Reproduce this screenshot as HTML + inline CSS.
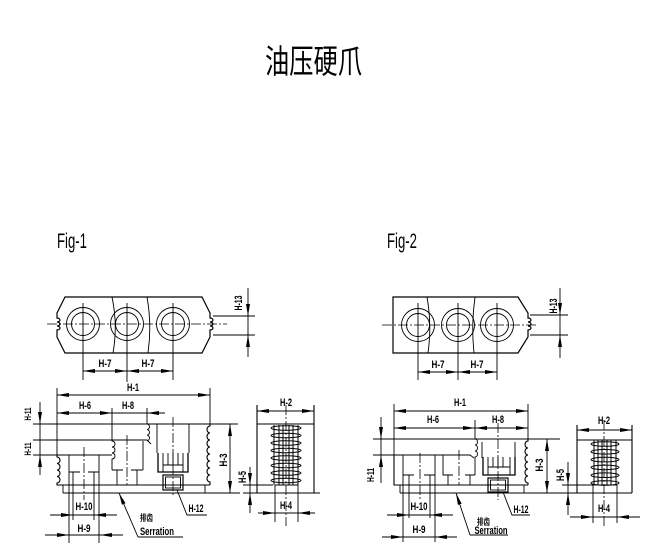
<!DOCTYPE html>
<html><head><meta charset="utf-8">
<style>
html,body{margin:0;padding:0;background:#fff;}
svg{display:block}
.t{font-family:"Liberation Sans",sans-serif;font-weight:bold;font-size:11px;text-anchor:middle;fill:#000;stroke:none}
.s{font-family:"Liberation Sans",sans-serif;font-weight:bold;font-size:9px;text-anchor:middle;fill:#000;stroke:none}
.c{stroke-dasharray:10,2,2,2;stroke-width:0.8}
</style></head><body>
<svg width="653" height="552" viewBox="0 0 653 552" xmlns="http://www.w3.org/2000/svg">
<defs>
<marker id="a" viewBox="0 0 12 4" refX="12" refY="2" markerWidth="12" markerHeight="4" markerUnits="userSpaceOnUse" orient="auto-start-reverse"><path d="M0,0L12,2L0,4z" fill="#000" stroke="none"/></marker>
</defs>

<!-- Title -->
<text x="265" y="73" font-family="'Liberation Sans','Noto Sans CJK SC',sans-serif" font-size="33" textLength="97" lengthAdjust="spacingAndGlyphs" fill="#000">油压硬爪</text>
<text x="57" y="248" font-family="'Liberation Sans',sans-serif" font-size="21" textLength="30" lengthAdjust="spacingAndGlyphs" fill="#000">Fig-1</text>
<text x="387" y="248" font-family="'Liberation Sans',sans-serif" font-size="21" textLength="30" lengthAdjust="spacingAndGlyphs" fill="#000">Fig-2</text>

<g fill="none" stroke="#000" stroke-width="0.9">
<!-- ===== FIG 1 TOP VIEW ===== -->
<path stroke-width="1.2" d="M65,297H202L210,313V318a3,2 0 0 1 0,4a3,2 0 0 1 0,4a3,2 0 0 1 0,4V337L202,353H65L57,337V330a3,2 0 0 0 0,-4a3,2 0 0 0 0,-4a3,2 0 0 0 0,-4V313Z"/>
<circle cx="83" cy="324" r="16.5"/><circle cx="83" cy="324" r="11.5"/>
<circle cx="127" cy="324" r="16.5"/><circle cx="127" cy="324" r="11.5"/>
<circle cx="173" cy="324" r="16.5"/><circle cx="173" cy="324" r="11.5"/>
<path class="c" d="M47,324H227"/>
<path d="M83,303V380M127,303V382M173,303V380"/>
<path d="M112,297Q118,325 113,353M147,297Q152,325 148,353"/>
<path d="M213,316H255M213,335H255"/>
<line x1="248" y1="288" x2="248" y2="316" marker-end="url(#a)"/>
<line x1="248" y1="357" x2="248" y2="335" marker-end="url(#a)"/>
<line x1="248" y1="316" x2="248" y2="335"/>
<line x1="83" y1="371" x2="127" y2="371" marker-start="url(#a)" marker-end="url(#a)"/>
<line x1="127" y1="371" x2="173" y2="371" marker-start="url(#a)" marker-end="url(#a)"/>

<!-- ===== FIG 1 FRONT VIEW ===== -->
<path d="M57,388V455M210,388V424"/>
<line x1="57" y1="395" x2="210" y2="395" marker-start="url(#a)" marker-end="url(#a)"/>
<path d="M112,408V440M147,408V424"/>
<line x1="57" y1="413" x2="112" y2="413" marker-start="url(#a)" marker-end="url(#a)"/>
<line x1="165" y1="413" x2="147" y2="413" marker-end="url(#a)"/>
<line x1="112" y1="413" x2="147" y2="413"/>
<line x1="40" y1="402" x2="40" y2="424" marker-end="url(#a)"/>
<line x1="40" y1="475" x2="40" y2="455" marker-end="url(#a)"/>
<line x1="40" y1="424" x2="40" y2="455"/>
<path d="M33,424H238M33,440H147L151,444M33,455H112"/>
<path stroke-width="1.1" d="M57,455V457a3,3.25 0 0 1 0,6.5a3,3.25 0 0 1 0,6.5a3,3.25 0 0 1 0,6.5a3,3.25 0 0 1 0,6.5V485H210"/>
<path stroke-width="1.1" d="M210,424V426a3,3.5 0 0 0 0,7a3,3.5 0 0 0 0,7a3,3.5 0 0 0 0,7a3,3.5 0 0 0 0,7a3,3.5 0 0 0 0,7a3,3.5 0 0 0 0,7a3,3.5 0 0 0 0,7a3,3.5 0 0 0 0,7V485"/>
<path d="M63,485V493M205,485V493M63,493H240"/>
<path d="M112,440V441a3,3 0 0 1 0,6a3,3 0 0 1 0,6a3,3 0 0 1 0,6V470"/>
<path d="M112,470H123M131,470H143M117,470V485M137,470V485M143,441V470"/>
<path class="c" d="M127,435V485"/>
<path d="M147,424a2.5,2.8 0 0 1 0,5.6a2.5,2.8 0 0 1 0,5.6a2.5,2.8 0 0 1 0,5.6"/>
<path d="M157,424V453M189,424V453"/>
<path class="c" d="M173,417V497"/>
<path stroke-width="1.3" d="M158,453V472H188V453"/>
<path d="M163,453V465H183V453M168,453V465M173,453V465M178,453V465M163,465V472M183,465V472"/>
<rect x="163" y="475" width="20" height="15" stroke-width="1.2"/>
<rect x="165.5" y="477" width="15" height="11"/>
<path d="M177,490L187,515H207"/>
<path d="M69,455V543M99,455V543M69,472H80M88,472H99M73,472V520M94,472V520"/>
<path class="c" d="M84,447V500"/>
<line x1="50" y1="515" x2="73" y2="515" marker-end="url(#a)"/>
<line x1="117" y1="515" x2="94" y2="515" marker-end="url(#a)"/>
<line x1="73" y1="515" x2="94" y2="515"/>
<line x1="45" y1="535" x2="69" y2="535" marker-end="url(#a)"/>
<line x1="123" y1="535" x2="100" y2="535" marker-end="url(#a)"/>
<line x1="69" y1="535" x2="100" y2="535"/>
<line x1="138" y1="537" x2="119" y2="493" marker-end="url(#a)"/>
<path d="M138,537H183"/>
<line x1="230" y1="424" x2="230" y2="493" marker-start="url(#a)" marker-end="url(#a)"/>
<line x1="250" y1="467" x2="250" y2="485" marker-end="url(#a)"/>
<line x1="250" y1="513" x2="250" y2="493" marker-end="url(#a)"/>
<line x1="250" y1="485" x2="250" y2="493"/>
<path d="M243,485H273M243,493H320"/>

<!-- FIG 1 SIDE VIEW -->
<path stroke-width="1.1" d="M257,405V493M314,405V493M257,424H314"/>
<line x1="257" y1="411" x2="314" y2="411" marker-start="url(#a)" marker-end="url(#a)"/>
<g stroke-width="1">
<path d="M274,425V485M279,425V485M283,425V485M289,425V485M293,425V485M298,425V485"/>
<ellipse cx="286" cy="428" rx="15" ry="2.3"/><ellipse cx="286" cy="435.5" rx="15" ry="2.3"/>
<ellipse cx="286" cy="443" rx="15" ry="2.3"/><ellipse cx="286" cy="450.5" rx="15" ry="2.3"/>
<ellipse cx="286" cy="458" rx="15" ry="2.3"/><ellipse cx="286" cy="465.5" rx="15" ry="2.3"/>
<ellipse cx="286" cy="473" rx="15" ry="2.3"/><ellipse cx="286" cy="480.5" rx="15" ry="2.3"/>
</g>
<path d="M275,485V522M298,485V522M275,485H298"/>
<path class="c" d="M286,405V526"/>
<line x1="258" y1="513" x2="275" y2="513" marker-end="url(#a)"/>
<line x1="315" y1="513" x2="298" y2="513" marker-end="url(#a)"/>
<line x1="275" y1="513" x2="298" y2="513"/>

<!-- ===== FIG 2 TOP VIEW ===== -->
<path stroke-width="1.2" d="M393,297H518L528,313V318a3,2 0 0 1 0,4a3,2 0 0 1 0,4a3,2 0 0 1 0,4V337L518,353H393Z"/>
<circle cx="418" cy="325" r="16.5"/><circle cx="418" cy="325" r="11.5"/>
<circle cx="458" cy="325" r="16.5"/><circle cx="458" cy="325" r="11.5"/>
<circle cx="497" cy="325" r="16.5"/><circle cx="497" cy="325" r="11.5"/>
<path class="c" d="M382,325H538"/>
<path d="M418,303V380M458,303V380M497,303V380"/>
<path d="M427,297Q432,325 428,353M475,297Q471,325 474,353"/>
<path d="M530,315H568M530,335H568"/>
<line x1="560" y1="288" x2="560" y2="315" marker-end="url(#a)"/>
<line x1="560" y1="358" x2="560" y2="335" marker-end="url(#a)"/>
<line x1="560" y1="315" x2="560" y2="335"/>
<line x1="418" y1="372" x2="458" y2="372" marker-start="url(#a)" marker-end="url(#a)"/>
<line x1="458" y1="372" x2="497" y2="372" marker-start="url(#a)" marker-end="url(#a)"/>

<!-- ===== FIG 2 FRONT VIEW ===== -->
<path d="M394,404V455M528,404V439M475,420V439"/>
<line x1="394" y1="411" x2="528" y2="411" marker-start="url(#a)" marker-end="url(#a)"/>
<line x1="394" y1="428" x2="475" y2="428" marker-start="url(#a)" marker-end="url(#a)"/>
<line x1="475" y1="428" x2="528" y2="428" marker-start="url(#a)" marker-end="url(#a)"/>
<path d="M373,439H560M373,455H470L474,458"/>
<line x1="381" y1="417" x2="381" y2="439" marker-end="url(#a)"/>
<line x1="381" y1="483" x2="381" y2="455" marker-end="url(#a)"/>
<line x1="381" y1="439" x2="381" y2="455"/>
<path stroke-width="1.1" d="M394,455V485H528"/>
<path stroke-width="1.1" d="M528,439V441a3,3.5 0 0 0 0,7a3,3.5 0 0 0 0,7a3,3.5 0 0 0 0,7a3,3.5 0 0 0 0,7a3,3.5 0 0 0 0,7a3,3.5 0 0 0 0,7V485"/>
<path d="M400,485V493M524,485V493M400,493H560"/>
<path d="M475,439a2.5,3 0 0 1 0,6a2.5,3 0 0 1 0,6a2.5,3 0 0 1 0,6V475"/>
<path d="M482,442V458M515,442V458"/>
<path class="c" d="M498,423V500"/>
<path stroke-width="1.3" d="M483,457V475H515V457"/>
<path d="M488,457V467H510V457M493,457V467M498,457V467M503,457V467M488,467V475M510,467V475"/>
<rect x="488" y="478" width="20" height="14" stroke-width="1.2"/>
<rect x="490.5" y="480" width="15" height="10"/>
<path d="M503,492L512,515H530"/>
<path d="M403,455V542M435,455V542M403,475H414M424,475H435M409,475V518M430,475V518"/>
<path class="c" d="M420,453V500"/>
<path d="M443,455V475H453M465,475H475M448,475V485M470,475V485"/>
<path class="c" d="M459,450V485"/>
<line x1="387" y1="515" x2="409" y2="515" marker-end="url(#a)"/>
<line x1="453" y1="515" x2="430" y2="515" marker-end="url(#a)"/>
<line x1="409" y1="515" x2="430" y2="515"/>
<line x1="382" y1="537" x2="403" y2="537" marker-end="url(#a)"/>
<line x1="457" y1="537" x2="435" y2="537" marker-end="url(#a)"/>
<line x1="403" y1="537" x2="435" y2="537"/>
<line x1="470" y1="535" x2="456" y2="493" marker-end="url(#a)"/>
<path d="M470,535H508"/>
<line x1="547" y1="439" x2="547" y2="493" marker-start="url(#a)" marker-end="url(#a)"/>
<line x1="568" y1="462" x2="568" y2="485" marker-end="url(#a)"/>
<line x1="568" y1="515" x2="568" y2="493" marker-end="url(#a)"/>
<line x1="568" y1="485" x2="568" y2="493"/>
<path d="M562,485H593M560,493H632"/>

<!-- FIG 2 SIDE VIEW -->
<path stroke-width="1.1" d="M577,425V493M632,425V493M577,440H632"/>
<line x1="577" y1="430" x2="632" y2="430" marker-start="url(#a)" marker-end="url(#a)"/>
<g stroke-width="1">
<path d="M594,440V485M598,440V485M602,440V485M607,440V485M611,440V485M616,440V485"/>
<ellipse cx="605" cy="444" rx="14" ry="2.3"/><ellipse cx="605" cy="451.8" rx="14" ry="2.3"/>
<ellipse cx="605" cy="459.6" rx="14" ry="2.3"/><ellipse cx="605" cy="467.4" rx="14" ry="2.3"/>
<ellipse cx="605" cy="475.2" rx="14" ry="2.3"/><ellipse cx="605" cy="483" rx="14" ry="2.3"/>
</g>
<path d="M593,485V523M617,485V523M593,485H617"/>
<path class="c" d="M604,420V527"/>
<line x1="570" y1="517" x2="593" y2="517" marker-end="url(#a)"/>
<line x1="640" y1="517" x2="617" y2="517" marker-end="url(#a)"/>
<line x1="593" y1="517" x2="617" y2="517"/>
</g>

<!-- ===== LABELS FIG 1 ===== -->
<text class="t" transform="translate(242,303) rotate(-90)" textLength="15" lengthAdjust="spacingAndGlyphs">H-13</text>
<text class="t" x="105" y="367" textLength="13" lengthAdjust="spacingAndGlyphs">H-7</text>
<text class="t" x="148" y="367" textLength="13" lengthAdjust="spacingAndGlyphs">H-7</text>
<text class="t" x="133" y="391" textLength="12" lengthAdjust="spacingAndGlyphs">H-1</text>
<text class="t" x="85" y="409" textLength="12" lengthAdjust="spacingAndGlyphs">H-6</text>
<text class="t" x="128" y="409" textLength="12" lengthAdjust="spacingAndGlyphs">H-8</text>
<text class="s" transform="translate(31,414) rotate(-90)" textLength="13" lengthAdjust="spacingAndGlyphs">H-11</text>
<text class="s" transform="translate(31,449) rotate(-90)" textLength="13" lengthAdjust="spacingAndGlyphs">H-11</text>
<text class="t" x="84" y="510" textLength="17" lengthAdjust="spacingAndGlyphs">H-10</text>
<text class="t" x="84" y="532" textLength="13" lengthAdjust="spacingAndGlyphs">H-9</text>
<text x="140" y="521" font-family="'Liberation Sans','Noto Sans CJK SC',sans-serif" font-weight="bold" font-size="9" textLength="13" lengthAdjust="spacingAndGlyphs" fill="#000">排齿</text>
<text class="t" x="157" y="535" textLength="34" lengthAdjust="spacingAndGlyphs">Serration</text>
<text class="t" x="196" y="512" textLength="15" lengthAdjust="spacingAndGlyphs">H-12</text>
<text class="t" transform="translate(227,460) rotate(-90)" textLength="13" lengthAdjust="spacingAndGlyphs">H-3</text>
<text class="t" transform="translate(246,477) rotate(-90)" textLength="12" lengthAdjust="spacingAndGlyphs">H-5</text>
<text class="t" x="286" y="406" textLength="12" lengthAdjust="spacingAndGlyphs">H-2</text>
<text class="t" x="286" y="509" textLength="12" lengthAdjust="spacingAndGlyphs">H-4</text>

<!-- ===== LABELS FIG 2 ===== -->
<text class="t" transform="translate(557,306) rotate(-90)" textLength="15" lengthAdjust="spacingAndGlyphs">H-13</text>
<text class="t" x="438" y="368" textLength="13" lengthAdjust="spacingAndGlyphs">H-7</text>
<text class="t" x="477" y="368" textLength="13" lengthAdjust="spacingAndGlyphs">H-7</text>
<text class="t" x="460" y="406" textLength="12" lengthAdjust="spacingAndGlyphs">H-1</text>
<text class="t" x="433" y="423" textLength="12" lengthAdjust="spacingAndGlyphs">H-6</text>
<text class="t" x="498" y="423" textLength="12" lengthAdjust="spacingAndGlyphs">H-8</text>
<text class="s" transform="translate(374,475) rotate(-90)" textLength="14" lengthAdjust="spacingAndGlyphs" style="font-size:10px">H-11</text>
<text class="t" x="419" y="510" textLength="17" lengthAdjust="spacingAndGlyphs">H-10</text>
<text class="t" x="419" y="533" textLength="13" lengthAdjust="spacingAndGlyphs">H-9</text>
<text x="477" y="525" font-family="'Liberation Sans','Noto Sans CJK SC',sans-serif" font-weight="bold" font-size="9" textLength="13" lengthAdjust="spacingAndGlyphs" fill="#000">排齿</text>
<text class="t" x="491" y="534" textLength="33" lengthAdjust="spacingAndGlyphs">Serration</text>
<text class="t" x="521" y="513" textLength="15" lengthAdjust="spacingAndGlyphs">H-12</text>
<text class="t" transform="translate(543,465) rotate(-90)" textLength="13" lengthAdjust="spacingAndGlyphs">H-3</text>
<text class="t" transform="translate(564,475) rotate(-90)" textLength="12" lengthAdjust="spacingAndGlyphs">H-5</text>
<text class="t" x="604" y="424" textLength="12" lengthAdjust="spacingAndGlyphs">H-2</text>
<text class="t" x="604" y="512" textLength="12" lengthAdjust="spacingAndGlyphs">H-4</text>
</svg>
</body></html>
